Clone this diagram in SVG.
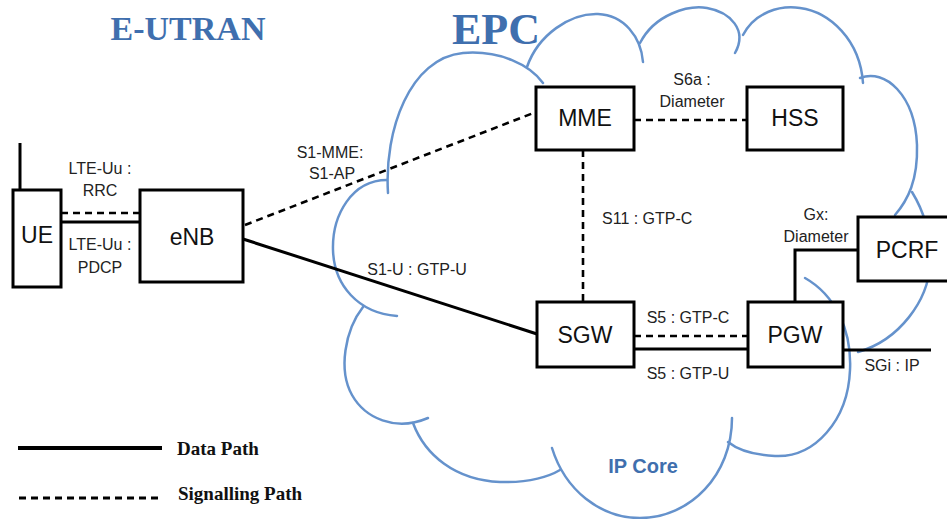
<svg xmlns="http://www.w3.org/2000/svg" width="947" height="519" viewBox="0 0 947 519">
<style>
.cloud{fill:none;stroke:#6592cc;stroke-width:2.5;stroke-linecap:round}
.box{fill:#fff;stroke:#000;stroke-width:3}
.data{fill:none;stroke:#000;stroke-width:3}
.sig{fill:none;stroke:#000;stroke-width:2.6;stroke-dasharray:7 5}
.nl{font-family:"Liberation Sans",Arial,sans-serif;font-size:23px;fill:#111;text-anchor:middle}
.lb{font-family:"Liberation Sans",Arial,sans-serif;font-size:16px;fill:#222;text-anchor:middle}
.lbs{font-family:"Liberation Sans",Arial,sans-serif;font-size:16px;fill:#222;text-anchor:start}
.ttl{font-family:"Liberation Serif","Times New Roman",serif;font-weight:bold;fill:#3f6fae}
.lg{font-family:"Liberation Serif","Times New Roman",serif;font-weight:bold;font-size:19px;fill:#111}
</style>
<rect width="947" height="519" fill="#fff"/>
<text class="ttl" x="188" y="40" font-size="34" text-anchor="middle">E-UTRAN</text>
<text class="ttl" x="452" y="44" font-size="44">EPC</text>
<g id="cloud">
<path class="cloud" d="M388,193 C384,130 410,58 463,53 C500,50 530,65 543,83"/>
<path class="cloud" d="M527,67 C538,35 570,13 598,14 C624,15 641,37 643,62"/>
<path class="cloud" d="M640,43 C655,14 688,5 707,8 C730,12 748,30 735,53"/>
<path class="cloud" d="M743,35 C755,12 780,5 800,8 C830,12 860,40 863,83"/>
<path class="cloud" d="M860,78 C885,68 915,95 917,145 C918,180 908,200 895,215"/>
<path class="cloud" d="M912,192 C920,205 932,230 930,265 C928,300 900,340 858,352"/>
<path class="cloud" d="M805,278 C835,295 852,330 850,370 C848,420 815,458 775,456 C755,455 738,450 728,442"/>
<path class="cloud" d="M552,448 C565,490 600,518 640,518 C690,518 732,475 732,418"/>
<path class="cloud" d="M413,423 C425,455 455,480 500,482 C530,483 550,476 560,470"/>
<path class="cloud" d="M363,307 C345,330 338,370 352,395 C365,418 395,432 428,418"/>
<path class="cloud" d="M387,180 C352,180 332,215 333,250 C334,285 358,313 397,316"/>
<text x="643" y="473" font-family="Liberation Sans, Arial, sans-serif" font-size="20" font-weight="bold" fill="#3f6fae" text-anchor="middle">IP Core</text>
</g>
<g id="connectors">
<line class="data" x1="20" y1="143" x2="20" y2="190"/>
<line class="sig" x1="61" y1="213" x2="140" y2="213"/>
<line class="data" x1="61" y1="222" x2="140" y2="222"/>
<line class="sig" x1="245" y1="225" x2="536" y2="112"/>
<line class="data" x1="243" y1="239" x2="537" y2="334"/>
<line class="sig" x1="634" y1="120" x2="747" y2="120"/>
<line class="sig" x1="583" y1="150" x2="583" y2="302"/>
<line class="sig" x1="634" y1="336" x2="748" y2="336"/>
<line class="data" x1="634" y1="349" x2="748" y2="349"/>
<polyline class="data" points="858,250 795,250 795,302"/>
<line class="data" x1="843" y1="350" x2="931" y2="350"/>
<text class="lb" x="100" y="174">LTE-Uu :</text>
<text class="lb" x="100" y="196">RRC</text>
<text class="lb" x="100" y="250">LTE-Uu :</text>
<text class="lb" x="100" y="273">PDCP</text>
<text class="lb" x="330" y="158">S1-MME:</text>
<text class="lb" x="332" y="179">S1-AP</text>
<text class="lb" x="692" y="85">S6a :</text>
<text class="lb" x="692" y="107">Diameter</text>
<text class="lbs" x="602" y="224">S11 : GTP-C</text>
<text class="lb" x="816" y="220">Gx:</text>
<text class="lb" x="816" y="242">Diameter</text>
<text class="lb" x="417" y="275">S1-U : GTP-U</text>
<text class="lb" x="688" y="323">S5 : GTP-C</text>
<text class="lb" x="688" y="379">S5 : GTP-U</text>
<text class="lb" x="892" y="371">SGi : IP</text>
</g>
<g id="UE"><rect class="box" x="13" y="190" width="48" height="97"/><text class="nl" x="37" y="243" font-size="18">UE</text></g>
<g id="eNB"><rect class="box" x="140" y="190" width="103" height="92"/><text class="nl" x="192" y="245">eNB</text></g>
<g id="MME"><rect class="box" x="536" y="87" width="98" height="63"/><text class="nl" x="585" y="126">MME</text></g>
<g id="HSS"><rect class="box" x="747" y="87" width="96" height="63"/><text class="nl" x="795" y="126">HSS</text></g>
<g id="SGW"><rect class="box" x="537" y="302" width="97" height="65"/><text class="nl" x="585" y="343">SGW</text></g>
<g id="PGW"><rect class="box" x="748" y="302" width="95" height="65"/><text class="nl" x="795" y="343">PGW</text></g>
<g id="PCRF"><rect class="box" x="858" y="217" width="100" height="64"/><text class="nl" x="907" y="258">PCRF</text></g>
<g id="legend">
<line x1="18" y1="448" x2="162" y2="448" stroke="#000" stroke-width="4"/>
<text class="lg" x="177" y="455">Data Path</text>
<line x1="19" y1="498" x2="162" y2="498" stroke="#000" stroke-width="3" stroke-dasharray="7 5"/>
<text class="lg" x="178" y="500">Signalling Path</text>
</g>
</svg>
